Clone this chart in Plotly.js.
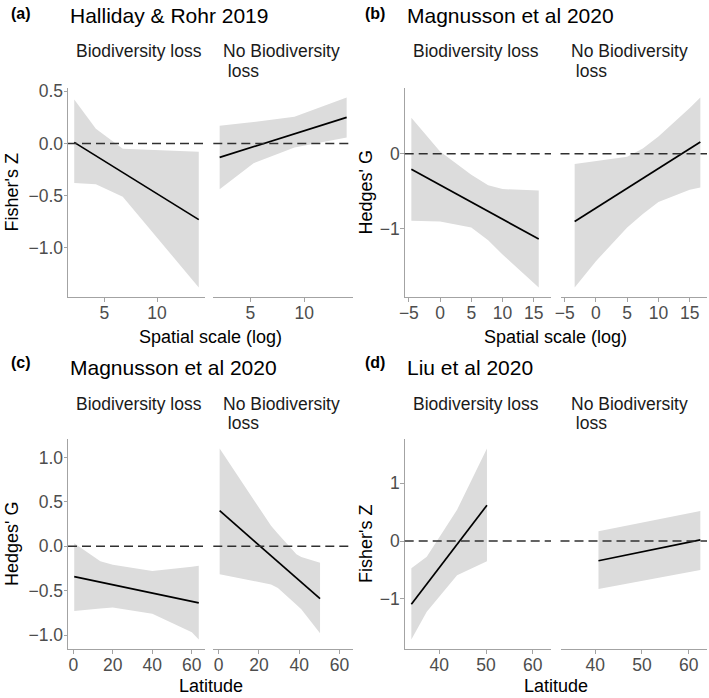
<!DOCTYPE html>
<html><head><meta charset="utf-8">
<script src="https://cdn.plot.ly/plotly-3.0.1.min.js"></script>
<style>html,body{margin:0;padding:0;background:#fff}</style>
</head><body><div id="chart" style="width:709px;height:698px"></div>
<script>
// ---------- Data ----------
// Panel (a) Halliday & Rohr 2019 — Spatial scale (log)
const aLossRibX  = [2.15, 4.2, 6.75, 13.95];
const aLossRibHi = [0.42, 0.14, -0.05, -0.08];
const aLossRibLo = [-0.38, -0.39, -0.51, -1.38];
const aLossLineX = [2.15, 13.95];
const aLossLineY = [0.01, -0.73];
const aNoRibX  = [2.15, 5.3, 9.1, 13.95];
const aNoRibHi = [0.17, 0.205, 0.255, 0.44];
const aNoRibLo = [-0.44, -0.19, -0.04, 0.057];
const aNoLineX = [2.15, 13.95];
const aNoLineY = [-0.134, 0.25];
const aXTicks = [5, 10];
const aYTicks = [-1.0, -0.5, 0.0, 0.5];

// Panel (b) Magnusson et al 2020 — Spatial scale (log)
const bLossRibX  = [-4.6, 0, 5, 7.7, 10, 15.8];
const bLossRibHi = [0.48, 0.03, -0.28, -0.42, -0.47, -0.49];
const bLossRibLo = [-0.89, -0.9, -0.98, -1.15, -1.34, -1.78];
const bLossLineX = [-4.6, 15.8];
const bLossLineY = [-0.206, -1.135];
const bNoRibX  = [-3.4, 0, 5, 7.5, 10, 15, 16.7];
const bNoRibHi = [-0.135, -0.10, -0.04, 0.07, 0.23, 0.61, 0.75];
const bNoRibLo = [-1.78, -1.43, -0.98, -0.8, -0.64, -0.48, -0.45];
const bNoLineX = [-3.4, 16.7];
const bNoLineY = [-0.90, 0.157];
const bXTicks = [-5, 0, 5, 10, 15];
const bYTicks = [-1, 0];

// Panel (c) Magnusson et al 2020 — Latitude
const cLossRibX  = [0.5, 13.7, 20, 40, 60, 63.5];
const cLossRibHi = [0.034, -0.17, -0.21, -0.28, -0.23, -0.22];
const cLossRibLo = [-0.73, -0.70, -0.69, -0.76, -0.97, -1.05];
const cLossLineX = [0.5, 63.5];
const cLossLineY = [-0.343, -0.638];
const cNoRibX  = [0.5, 26, 29.4, 38.6, 41, 50.3];
const cNoRibHi = [1.10, 0.23, 0.14, -0.09, -0.12, -0.185];
const cNoRibLo = [-0.317, -0.43, -0.47, -0.66, -0.71, -0.98];
const cNoLineX = [0.5, 50.3];
const cNoLineY = [0.40, -0.59];
const cXTicks = [0, 20, 40, 60];
const cYTicks = [-1.0, -0.5, 0.0, 0.5, 1.0];

// Panel (d) Liu et al 2020 — Latitude
const dLossRibX  = [34.0, 37.3, 43.8, 50.2];
const dLossRibHi = [-0.47, -0.27, 0.54, 1.60];
const dLossRibLo = [-1.70, -1.22, -0.59, -0.35];
const dLossLineX = [34.0, 50.2];
const dLossLineY = [-1.09, 0.62];
const dNoRibX  = [40.7, 62.5];
const dNoRibHi = [0.17, 0.52];
const dNoRibLo = [-0.83, -0.50];
const dNoLineX = [40.7, 62.5];
const dNoLineY = [-0.34, 0.02];
const dXTicks = [40, 50, 60];
const dYTicks = [-1, 0, 1];

const panelTags   = ['(a)', '(b)', '(c)', '(d)'];
const panelTitles = ['Halliday & Rohr 2019', 'Magnusson et al 2020', 'Magnusson et al 2020', 'Liu et al 2020'];
const facetLabels = ['Biodiversity loss', 'No Biodiversity', '\u00a0loss'];
const xTitles = ['Spatial scale (log)', 'Spatial scale (log)', 'Latitude', 'Latitude'];
const yTitles = ["Fisher's Z", "Hedges' G", "Hedges' G", "Fisher's Z"];

// ---------- Helpers ----------
const W = 709, H = 698;
const FONT = 'Liberation Sans, Arial, sans-serif';
const dx = (a, b) => [a / W, b / W];
const dy = (top, bot) => [1 - bot / H, 1 - top / H];
function expand(arrs) {
  const all = [].concat(...arrs);
  const mn = Math.min(...all), mx = Math.max(...all);
  const d = mx - mn;
  return [mn - 0.05 * d, mx + 0.05 * d];
}

const panels = [
  {loss: [aLossRibX, aLossRibHi, aLossRibLo, aLossLineX, aLossLineY],
   no:   [aNoRibX, aNoRibHi, aNoRibLo, aNoLineX, aNoLineY],
   xt: aXTicks, yt: aYTicks, yfmt: '.1f'},
  {loss: [bLossRibX, bLossRibHi, bLossRibLo, bLossLineX, bLossLineY],
   no:   [bNoRibX, bNoRibHi, bNoRibLo, bNoLineX, bNoLineY],
   xt: bXTicks, yt: bYTicks, yfmt: 'd'},
  {loss: [cLossRibX, cLossRibHi, cLossRibLo, cLossLineX, cLossLineY],
   no:   [cNoRibX, cNoRibHi, cNoRibLo, cNoLineX, cNoLineY],
   xt: cXTicks, yt: cYTicks, yfmt: '.1f'},
  {loss: [dLossRibX, dLossRibHi, dLossRibLo, dLossLineX, dLossLineY],
   no:   [dNoRibX, dNoRibHi, dNoRibLo, dNoLineX, dNoLineY],
   xt: dXTicks, yt: dYTicks, yfmt: 'd'}
];

// pixel geometry of each panel (left facet, right facet, top, bottom, text rows)
const geom = [
  {l: [68, 205], r: [213.3, 353], top: 88, bot: 297, px0: 0, tagY: 14, titY: 16, s1: 51, s2: 71, xtY: 337},
  {l: [404.7, 551], r: [560.5, 707], top: 88, bot: 297, px0: 354, tagY: 14, titY: 16, s1: 51, s2: 71, xtY: 337},
  {l: [68, 205], r: [213.3, 353], top: 439, bot: 649, px0: 0, tagY: 362, titY: 368, s1: 404, s2: 423, xtY: 686},
  {l: [404.7, 551], r: [560.5, 707], top: 439, bot: 649, px0: 354, tagY: 362, titY: 368, s1: 404, s2: 423, xtY: 686}
];

const AXC = '#a3a3a3';
const TICKC = '#4d4d4d';
const TICKSIZE = 17.5;
const traces = [];
const layout = {
  width: W, height: H, autosize: false,
  margin: {l: 0, r: 0, t: 0, b: 0},
  paper_bgcolor: '#fff', plot_bgcolor: '#fff',
  showlegend: false,
  font: {family: FONT, color: '#000'},
  shapes: [], annotations: []
};

function ann(text, x, y, opts) {
  layout.annotations.push(Object.assign({
    text: text, xref: 'paper', yref: 'paper', x: x / W, y: 1 - y / H,
    showarrow: false, xanchor: 'left', yanchor: 'middle',
    font: {family: FONT, size: 17.5, color: '#1a1a1a'}
  }, opts || {}));
}

panels.forEach((p, i) => {
  const g = geom[i];
  const xi1 = 2 * i + 1, xi2 = 2 * i + 2, yi = i + 1;
  const xn1 = xi1 === 1 ? 'x' : 'x' + xi1, xn2 = 'x' + xi2, yn = yi === 1 ? 'y' : 'y' + yi;
  const xr = expand([p.loss[0], p.loss[3], p.no[0], p.no[3]]);
  const yr = expand([p.loss[1], p.loss[2], p.loss[4], p.no[1], p.no[2], p.no[4]]);
  const xa = (dom) => ({
    domain: dx(dom[0], dom[1]), range: xr, anchor: yn,
    showgrid: false, zeroline: false, showline: true, linecolor: AXC, linewidth: 1,
    ticks: 'outside', ticklen: 3.5, tickcolor: AXC, tickwidth: 1,
    tickmode: 'array', tickvals: p.xt, ticklabelstandoff: -4,
    tickfont: {family: FONT, size: TICKSIZE, color: TICKC}, automargin: false, fixedrange: true
  });
  layout['xaxis' + (xi1 === 1 ? '' : xi1)] = xa(g.l);
  layout['xaxis' + xi2] = xa(g.r);
  layout['yaxis' + (yi === 1 ? '' : yi)] = {
    domain: dy(g.top, g.bot), range: yr, anchor: xn1,
    showgrid: false, zeroline: false, showline: true, linecolor: AXC, linewidth: 1,
    ticks: 'outside', ticklen: 3.5, tickcolor: AXC, tickwidth: 1,
    tickmode: 'array', tickvals: p.yt, tickformat: p.yfmt, ticklabelstandoff: -3,
    tickfont: {family: FONT, size: TICKSIZE, color: TICKC}, automargin: false, fixedrange: true
  };
  [[p.loss, xn1], [p.no, xn2]].forEach(([s, xn]) => {
    const [rx, hi, lo, lx, ly] = s;
    traces.push({
      type: 'scatter', mode: 'lines', xaxis: xn, yaxis: yn,
      x: rx.concat(rx.slice().reverse()), y: hi.concat(lo.slice().reverse()),
      fill: 'toself', fillcolor: '#dcdcdc', line: {width: 0, color: 'rgba(0,0,0,0)'},
      hoverinfo: 'skip'
    });
    traces.push({
      type: 'scatter', mode: 'lines', xaxis: xn, yaxis: yn,
      x: lx, y: ly, line: {color: '#000', width: 1.7}, hoverinfo: 'skip'
    });
    layout.shapes.push({
      type: 'line', layer: 'above', xref: xn + ' domain', yref: yn,
      x0: 0, x1: 1, y0: 0, y1: 0,
      line: {color: '#303030', width: 1.5, dash: '9px,5px'}
    });
  });
  // text
  ann('<b>' + panelTags[i] + '</b>', g.px0 + 9, g.tagY, {font: {family: FONT, size: 16, color: '#000'}});
  ann(panelTitles[i], g.l[0], g.titY, {font: {family: FONT, size: 21, color: '#000'}});
  ann(facetLabels[0], g.l[0] + 6, g.s1);
  ann(facetLabels[1], g.r[0] + 8, g.s1);
  ann(facetLabels[2], g.r[0] + 8, g.s2);
  ann(xTitles[i], (g.l[0] + g.r[1]) / 2, g.xtY, {xanchor: 'center', font: {family: FONT, size: 18, color: '#000'}});
  ann(yTitles[i], g.px0 + 12, (g.top + g.bot) / 2, {xanchor: 'center', textangle: -90, font: {family: FONT, size: 18, color: '#000'}});
});

Plotly.newPlot('chart', traces, layout, {staticPlot: true, displayModeBar: false});
</script></body></html>
